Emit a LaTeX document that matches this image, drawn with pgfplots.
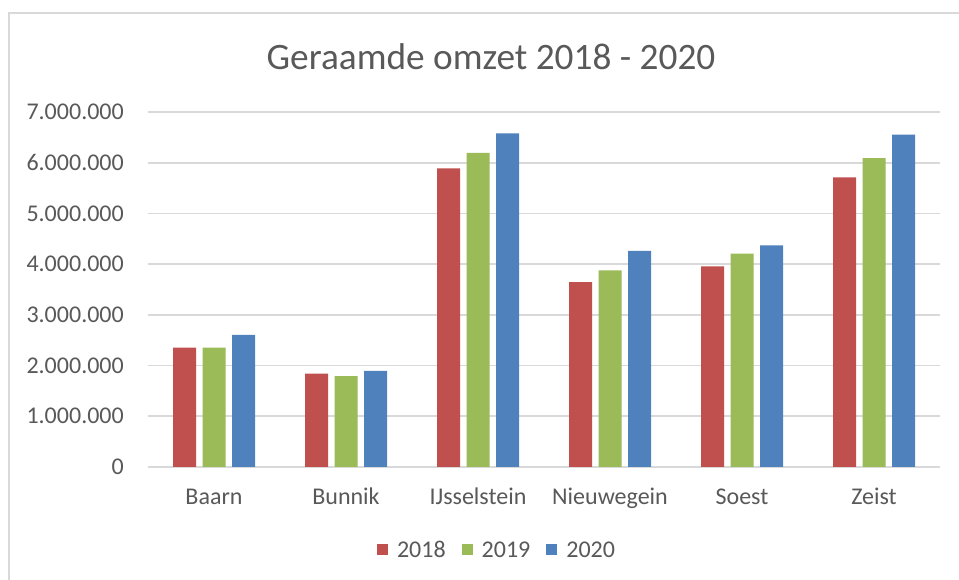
\documentclass[border=0pt]{standalone}
\usepackage{pgfplots}
\pgfplotsset{compat=1.18}
\usepackage{fontspec}
\setmainfont{Carlito}
\definecolor{cRed}{HTML}{C0504D}
\definecolor{cGreen}{HTML}{9BBB59}
\definecolor{cBlue}{HTML}{4F81BD}
\definecolor{cText}{HTML}{595959}
\definecolor{cGrid}{HTML}{D9D9D9}
\begin{document}
\begin{tikzpicture}[x=1pt,y=1pt]
\useasboundingbox (0,0) rectangle (959,580);
\fill[white] (0,0) rectangle (959,580);
\draw[cGrid, line width=2pt] (9,0) -- (9,567) -- (959,567);
\node[anchor=base, text=cText, font=\fontsize{37.3}{44}\selectfont, inner sep=0pt] at (491,510) {Geraamde omzet 2018 - 2020};
\begin{axis}[
  at={(148pt,113pt)}, anchor=south west,
  scale only axis, width=792pt, height=355pt,
  xmin=-0.5, xmax=5.5, ymin=0, ymax=7000000,
  ybar=6.5pt, bar width=23pt,
  axis line style={draw=none},
  major tick length=0pt,
  ymajorgrids, grid style={cGrid, line width=1.6pt},
  ytick={0,1000000,2000000,3000000,4000000,5000000,6000000,7000000},
  yticklabels={0,1.000.000,2.000.000,3.000.000,4.000.000,5.000.000,6.000.000,7.000.000},
  scaled y ticks=false,
  xtick={0,1,2,3,4,5},
  xticklabels={Baarn,Bunnik,IJsselstein,Nieuwegein,Soest,Zeist},
  tick label style={text=cText, font=\fontsize{24}{28}\selectfont},
  yticklabel style={anchor=east, inner sep=0pt, xshift=-24pt},
  xticklabel style={anchor=base, inner sep=0pt, yshift=-38pt},
  legend columns=3,
  legend style={at={(0.4394,-0.2338)}, anchor=center, draw=none, fill=none,
    font=\fontsize{24}{28}\selectfont, text=cText,
    /tikz/every odd column/.append style={column sep=9pt},
    /tikz/every even column/.append style={column sep=16pt},
    nodes={inner sep=0pt}},
  legend image code/.code={\fill[#1] (0pt,-5.5pt) rectangle (11pt,5.5pt);},
]
\addplot[fill=cRed, draw=none] coordinates {(0,2356000) (1,1840000) (2,5890000) (3,3647000) (4,3958000) (5,5711000)};
\addplot[fill=cGreen, draw=none] coordinates {(0,2356000) (1,1793000) (2,6195000) (3,3878000) (4,4209000) (5,6089000)};
\addplot[fill=cBlue, draw=none] coordinates {(0,2607000) (1,1893000) (2,6578000) (3,4262000) (4,4368000) (5,6552000)};
\legend{2018,2019,2020}
\end{axis}
\end{tikzpicture}
\end{document}
